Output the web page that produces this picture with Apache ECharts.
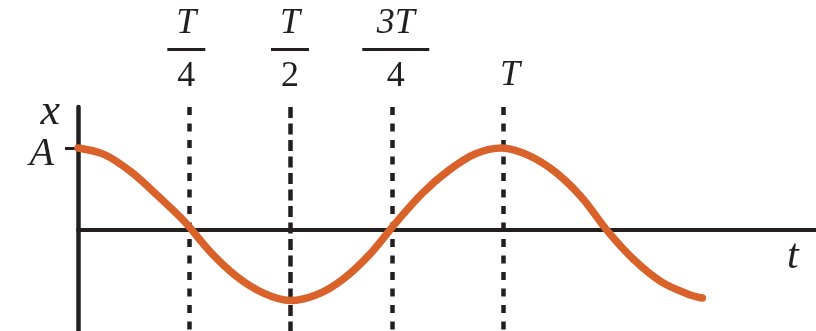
<!DOCTYPE html>
<html>
<head>
<meta charset="utf-8">
<script src="https://cdn.jsdelivr.net/npm/echarts@6/dist/echarts.min.js"></script>
<style>
  html, body { margin: 0; padding: 0; background: #fff; }
  #main { width: 816px; height: 331px; }
</style>
</head>
<body>
<div id="main"></div>
<script>
// t in units of T/4, x in units of A
const curveT = [0, 0.25, 0.5, 0.75, 1, 1.25, 1.5, 1.75, 2, 2.25, 2.5, 2.75, 3, 3.25, 3.5, 3.75, 4, 4.25, 4.5, 4.75, 5, 5.25, 5.5, 5.75, 5.89];
const curveX = [1.0, 0.92, 0.71, 0.42, 0.11, -0.27, -0.57, -0.77, -0.86, -0.79, -0.6, -0.3, 0.09, 0.45, 0.73, 0.93, 1.0, 0.91, 0.71, 0.4, -0.02, -0.37, -0.63, -0.78, -0.83];

// dashed markers
const markT = [1.05, 2.0, 2.96, 4.01];
const markNum = ['T', 'T', '3T', 'T'];
const markDen = ['4', '2', '4', ''];

const ink = '#231f20';
const orange = '#d9622b';
const serif = '"Liberation Serif", "DejaVu Serif", serif';

const yTop = 1.5, yBottom = -1.232;

var myChart = echarts.init(document.getElementById('main'));

const markData = markT.map((t, i) => {
    const bar = markNum[i].length > 1 ? 'barWide' : 'bar';
    const label = markDen[i]
        ? '{num|' + markNum[i] + '}\n{' + bar + '| }\n{den|' + markDen[i] + '}'
        : '{solo|' + markNum[i] + '}';
    // small nudges so the fractions sit where the drawing has them
    const nudge = i === 2 ? 4 : (i === 3 ? 7 : (i === 0 ? -3 : 0));
    return [
        {
            coord: [t, yTop],
            lineStyle: { type: i === 1 ? [11, 5.5] : [8, 8.5] },
            label: { formatter: label, offset: [nudge, markDen[i] ? -4 : -2] }
        },
        { coord: [t, yBottom] }
    ];
});

var option = {
    backgroundColor: '#fff',
    animation: false,
    grid: { left: 78, right: 0, top: 107, bottom: 0 },
    xAxis: {
        type: 'value',
        min: 0,
        max: 6.962,
        name: 't',
        nameLocation: 'end',
        nameGap: -29,
        nameTextStyle: {
            fontFamily: serif, fontStyle: 'italic', fontSize: 42, color: ink,
            verticalAlign: 'top', padding: [6, 0, 0, 0]
        },
        axisLine: { onZero: true, lineStyle: { color: ink, width: 4 } },
        axisTick: { show: false },
        axisLabel: { show: false },
        splitLine: { show: false }
    },
    yAxis: {
        type: 'value',
        min: yBottom,
        max: yTop,
        name: 'x',
        nameLocation: 'end',
        nameGap: -30,
        nameTextStyle: {
            fontFamily: serif, fontStyle: 'italic', fontSize: 44, color: ink,
            align: 'right', padding: [0, 18, 0, 0]
        },
        axisLine: { show: true, lineStyle: { color: ink, width: 4.5, cap: 'round' } },
        axisTick: {
            show: true, inside: false, length: 13,
            customValues: [1],
            lineStyle: { color: ink, width: 3 }
        },
        axisLabel: {
            show: true,
            customValues: [1],
            formatter: () => '{a|A}',
            margin: 24,
            rich: {
                a: { fontFamily: serif, fontStyle: 'italic', fontSize: 40, color: ink, padding: [12, 0, 0, 0] }
            }
        },
        splitLine: { show: false }
    },
    series: [
        {
            type: 'line',
            data: curveT.map((t, i) => [t, curveX[i]]),
            smooth: 0.35,
            showSymbol: false,
            symbol: 'none',
            clip: false,
            lineStyle: { color: orange, width: 7.5, cap: 'round' },
            z: 3,
            markLine: {
                silent: true,
                symbol: 'none',
                z: 2,
                lineStyle: { color: ink, width: 4.5, cap: 'butt' },
                label: {
                    show: true,
                    position: 'start',
                    distance: 12,
                    color: ink,
                    rich: {
                        num: { fontFamily: serif, fontStyle: 'italic', fontSize: 36, color: ink, lineHeight: 32, align: 'center', padding: [0, 0, 16, 0] },
                        solo: { fontFamily: serif, fontStyle: 'italic', fontSize: 36, color: ink, lineHeight: 32, align: 'center', padding: [0, 0, 2, 0] },
                        bar: { width: 38, height: 3, lineHeight: 3, fontSize: 1, backgroundColor: ink, align: 'center' },
                        barWide: { width: 67, height: 3, lineHeight: 3, fontSize: 1, backgroundColor: ink, align: 'center' },
                        den: { fontFamily: serif, fontSize: 36, color: ink, lineHeight: 40, align: 'center', padding: [11, 0, 0, 0] }
                    }
                },
                data: markData
            }
        }
    ]
};

myChart.setOption(option);
</script>
</body>
</html>
